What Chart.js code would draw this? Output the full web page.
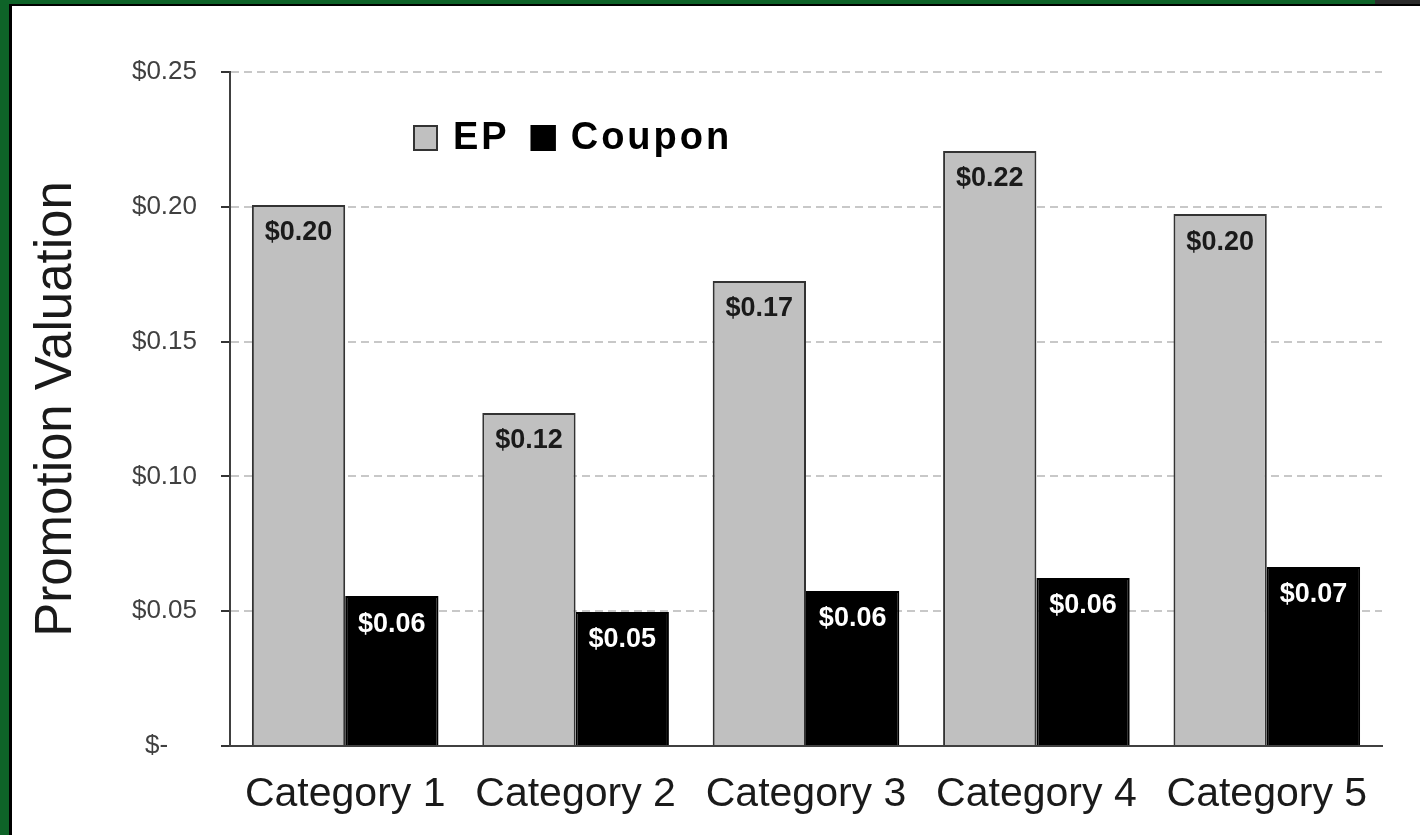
<!DOCTYPE html>
<html>
<head>
<meta charset="utf-8">
<script src="https://cdn.jsdelivr.net/npm/chart.js@4/dist/chart.umd.min.js"></script>
<style>
  body { margin: 0; background: #fff; }
  #wrap { position: relative; width: 1420px; height: 835px; overflow: hidden; }
  #chart { position: absolute; left: 0; top: 0; }
  .frame { position: absolute; }
</style>
</head>
<body>
<div id="wrap">
  <canvas id="chart" width="1420" height="835"></canvas>
  <div class="frame" style="left:0;top:0;width:1420px;height:4px;background:#0e6328"></div>
  <div class="frame" style="left:1375px;top:0;width:45px;height:4px;background:#2b2b2b"></div>
  <div class="frame" style="left:0;top:0;width:9px;height:835px;background:#0e6328"></div>
  <div class="frame" style="left:9px;top:4px;width:1411px;height:2px;background:#000"></div>
  <div class="frame" style="left:9px;top:4px;width:3px;height:831px;background:#000"></div>
</div>
<script>
const categories = ['Category 1', 'Category 2', 'Category 3', 'Category 4', 'Category 5'];
const epValues = [0.2007, 0.1235, 0.1725, 0.2207, 0.1973];
const couponValues = [0.0556, 0.0497, 0.0575, 0.0623, 0.0664];
const yTickLabels = ['$-    ', '$0.05', '$0.10', '$0.15', '$0.20', '$0.25'];

// value labels inside the top of each bar
const barLabels = {
  id: 'barLabels',
  afterDatasetsDraw(chart) {
    const ctx = chart.ctx;
    ctx.save();
    ctx.font = 'bold 27px "Liberation Sans", Arial, sans-serif';
    ctx.textAlign = 'center';
    ctx.textBaseline = 'middle';
    chart.data.datasets.forEach((ds, di) => {
      const meta = chart.getDatasetMeta(di);
      ctx.fillStyle = ds.labelColor;
      meta.data.forEach((bar, i) => {
        ctx.fillText('$' + ds.data[i].toFixed(2), bar.x, bar.y + 28);
      });
    });
    ctx.restore();
  }
};

// legend drawn inside the plot area
const innerLegend = {
  id: 'innerLegend',
  afterDraw(chart) {
    const ctx = chart.ctx;
    const area = chart.chartArea;
    let x = area.left + 183;
    const y = 138;
    ctx.save();
    ctx.font = 'bold 38px "Liberation Sans", Arial, sans-serif';
    ctx.letterSpacing = '3px';
    ctx.textBaseline = 'middle';
    ctx.textAlign = 'left';
    chart.data.datasets.forEach(ds => {
      ctx.fillStyle = ds.backgroundColor;
      ctx.fillRect(x, y - 13, 25, 26);
      ctx.strokeStyle = ds.borderColor;
      ctx.lineWidth = 2;
      ctx.strokeRect(x + 1, y - 12, 23, 24);
      ctx.fillStyle = '#000';
      ctx.fillText(ds.label, x + 40, y + 1);
      x += 40 + ctx.measureText(ds.label).width + 21;
    });
    ctx.restore();
  }
};

new Chart(document.getElementById('chart'), {
  type: 'bar',
  data: {
    labels: categories,
    datasets: [
      {
        label: 'EP',
        data: epValues,
        backgroundColor: '#c0c0c0',
        borderColor: '#333333',
        borderWidth: 2,
        labelColor: '#1a1a1a'
      },
      {
        label: 'Coupon',
        data: couponValues,
        backgroundColor: '#000000',
        borderColor: '#000000',
        borderWidth: 2,
        labelColor: '#ffffff'
      }
    ]
  },
  options: {
    responsive: false,
    animation: false,
    layout: { padding: { top: 72, right: 38, bottom: 0, left: 0 } },
    datasets: { bar: { categoryPercentage: 0.81, barPercentage: 1.0 } },
    plugins: { legend: { display: false }, tooltip: { enabled: false } },
    scales: {
      x: {
        grid: { display: false, drawTicks: false },
        border: { color: '#404040', width: 2 },
        ticks: {
          color: '#1a1a1a',
          padding: 24,
          maxRotation: 0,
          font: { family: '"Liberation Sans", Arial, sans-serif', size: 41 }
        },
        afterFit(scale) { scale.height = 89; }
      },
      y: {
        min: 0,
        max: 0.25,
        grid: {
          color: '#c8c8c8',
          lineWidth: 2,
          tickColor: '#333333',
          tickLength: 9,
          tickBorderDash: []
        },
        border: { color: '#404040', width: 2, dash: [8, 5] },
        ticks: {
          stepSize: 0.05,
          color: '#404040',
          padding: 24,
          font: { family: '"Liberation Sans", Arial, sans-serif', size: 26 },
          callback: (value, index) => yTickLabels[index]
        },
        title: {
          display: true,
          text: 'Promotion Valuation',
          color: '#1a1a1a',
          padding: { top: 26, bottom: 0 },
          font: { family: '"Liberation Sans", Arial, sans-serif', size: 51 }
        },
        afterFit(scale) { scale.width = 230; }
      }
    }
  },
  plugins: [barLabels, innerLegend]
});
</script>
</body>
</html>
